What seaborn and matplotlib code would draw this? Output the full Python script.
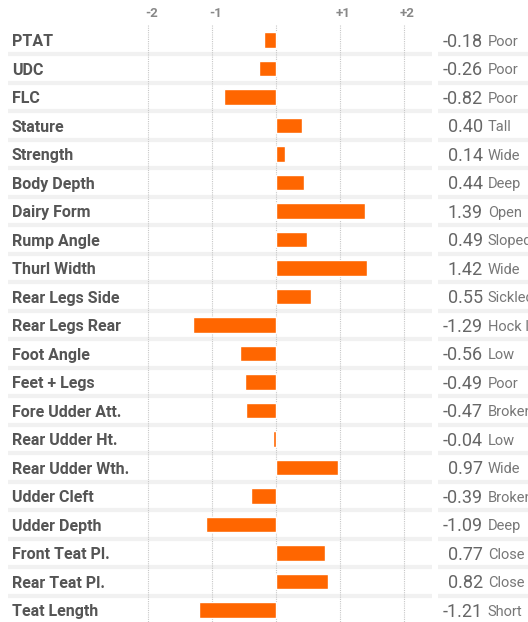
import matplotlib
matplotlib.use("Agg")
import matplotlib.pyplot as plt
from matplotlib import font_manager
import pandas as pd
import seaborn as sns

traits = [
    "PTAT", "UDC", "FLC", "Stature", "Strength", "Body Depth", "Dairy Form",
    "Rump Angle", "Thurl Width", "Rear Legs Side", "Rear Legs Rear",
    "Foot Angle", "Feet + Legs", "Fore Udder Att.", "Rear Udder Ht.",
    "Rear Udder Wth.", "Udder Cleft", "Udder Depth", "Front Teat Pl.",
    "Rear Teat Pl.", "Teat Length",
]
scores = [
    -0.18, -0.26, -0.82, 0.40, 0.14, 0.44, 1.39, 0.49, 1.42, 0.55, -1.29,
    -0.56, -0.49, -0.47, -0.04, 0.97, -0.39, -1.09, 0.77, 0.82, -1.21,
]
descriptors = [
    "Poor", "Poor", "Poor", "Tall", "Wide", "Deep", "Open", "Sloped", "Wide",
    "Sickled", "Hock In", "Low", "Poor", "Broken", "Low", "Wide", "Broken",
    "Deep", "Close", "Close", "Short",
]
tick_values = [-2, -1, 0, 1, 2]
tick_labels = ["-2", "-1", "", "+1", "+2"]

installed = {f.name for f in font_manager.fontManager.ttflist}
font = "Liberation Sans Narrow" if "Liberation Sans Narrow" in installed else "Roboto"

sns.set_style("white")
plt.rcParams["font.family"] = [font, "DejaVu Sans"]

df = pd.DataFrame({"trait": traits, "score": scores})

fig = plt.figure(figsize=(5.28, 6.22), dpi=100)
ax = fig.add_axes([0, 0, 1, 1])

n = len(traits)
# row separators
for i in range(n - 1):
    ax.plot([-4.19, 2.44], [i + 0.5, i + 0.5], color="#f1f1f1", lw=3, zorder=0,
            solid_capstyle="butt")
    ax.plot([2.53, 4.0], [i + 0.5, i + 0.5], color="#f1f1f1", lw=3, zorder=0,
            solid_capstyle="butt")

# dotted grid lines
for t in tick_values:
    ax.plot([t, t], [-0.53, n + 1], color="#c8c8c8", lw=0.8, ls=(0, (1, 1)),
            zorder=1)

sns.barplot(data=df, x="score", y="trait", orient="h", color="#ff6600",
            width=0.55, saturation=1, ax=ax, zorder=2)

for t, lab in zip(tick_values, tick_labels):
    ax.text(t + 0.05, -0.92, lab, ha="center", va="center", fontsize=9.5,
            color="#888888", fontweight="bold")

dy = 0.07
for i, (name, val, desc) in enumerate(zip(traits, scores, descriptors)):
    ax.text(-4.125, i + dy, name, ha="left", va="center", fontsize=11.5,
            color="#555555", fontweight="bold")
    ax.text(3.23, i + dy, f"{val:.2f}", ha="right", va="center", fontsize=13,
            color="#666666")
    ax.text(3.31, i + dy, desc, ha="left", va="center", fontsize=10.5,
            color="#777777")

ax.set_xlim(-4.3125, 3.9375)
ax.set_ylim((622 - 40) / 28.5, -40 / 28.5)
ax.set_xlabel("")
ax.set_ylabel("")
ax.set_xticks([])
ax.set_yticks([])
sns.despine(ax=ax, left=True, bottom=True)

fig.savefig("out.png", dpi=100)
